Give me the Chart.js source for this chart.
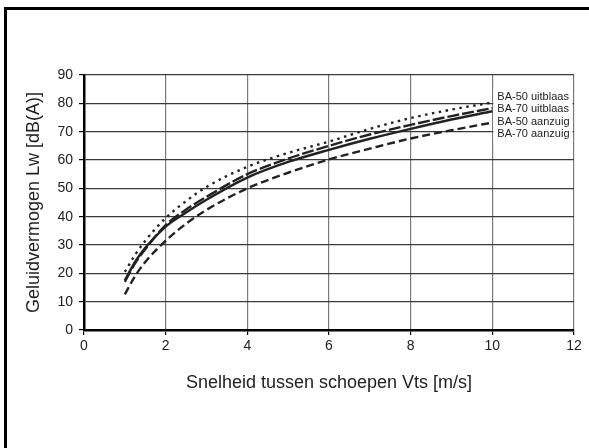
<!DOCTYPE html>
<html>
<head>
<meta charset="utf-8">
<script src="https://cdn.jsdelivr.net/npm/chart.js@4/dist/chart.umd.min.js"></script>
<style>
  html, body { margin: 0; padding: 0; background: #fff; }
  #wrap { width: 589px; height: 448px; position: relative; }
</style>
</head>
<body>
<div id="wrap"><canvas id="c" width="589" height="448"></canvas></div>
<script>
// ---- data ----
const speeds = [1, 1.25, 1.5, 2, 2.5, 3, 4, 5, 6, 7, 8, 9, 10];
const ba50Uitblaas = [20.5, 26.5, 31.5, 39.5, 45.5, 50.5, 57.6, 62.5, 66.5, 71, 74.8, 77.8, 80.3];
const ba70Uitblaas = [17, 23.5, 28.5, 37, 42.5, 47, 55, 60.5, 65, 69, 72.4, 75.5, 78.3];
const ba50Aanzuig = [17.5, 24, 29, 36.5, 41.5, 46, 53.8, 59.3, 63.6, 67.5, 71, 74.3, 77.2];
const ba70Aanzuig = [12.6, 19, 24, 31.5, 37.5, 42.4, 50, 55.5, 60.2, 64, 67.6, 70.5, 73.2];
const seriesLabels = ['BA-50 uitblaas', 'BA-70 uitblaas', 'BA-50 aanzuig', 'BA-70 aanzuig'];
const xTicks = [0, 2, 4, 6, 8, 10, 12];
const yTicks = [0, 10, 20, 30, 40, 50, 60, 70, 80, 90];
const xTitle = 'Snelheid tussen schoepen Vts [m/s]';
const yTitle = 'Geluidvermogen Lw [dB(A)]';

const FONT = "'Liberation Sans Narrow', 'Arial Narrow', 'Liberation Sans', Arial, sans-serif";
const INK = '#222';

function pts(ys) { return speeds.map((x, i) => ({ x: x, y: ys[i] })); }

const styles = [
  { borderDash: [2.5, 4.5], borderWidth: 2.4 },
  { borderDash: [12, 3], borderWidth: 2.4 },
  { borderDash: [], borderWidth: 2.4 },
  { borderDash: [8, 4], borderWidth: 2.4 }
];
const allSeries = [ba50Uitblaas, ba70Uitblaas, ba50Aanzuig, ba70Aanzuig];

const frame = {
  id: 'frame',
  afterDraw(chart) {
    const ctx = chart.ctx;
    ctx.save();
    ctx.strokeStyle = '#000';
    ctx.lineWidth = 3;
    ctx.strokeRect(5.5, 8.5, 800, 800);
    ctx.restore();
  }
};

const boxLegend = {
  id: 'boxLegend',
  afterDatasetsDraw(chart) {
    const ctx = chart.ctx;
    const xs = chart.scales.x;
    const area = chart.chartArea;
    const left = xs.getPixelForValue(10) + 1;
    const right = area.right - 1.5;
    ctx.save();
    ctx.fillStyle = '#fff';
    ctx.fillRect(left, 89, right - left, 52);
    ctx.fillStyle = INK;
    ctx.font = '11px ' + FONT;
    ctx.textBaseline = 'middle';
    ctx.textAlign = 'left';
    chart.data.datasets.forEach((ds, i) => {
      ctx.fillText(ds.label, left + 4, 97 + i * 12.3);
    });
    ctx.restore();
  }
};

new Chart(document.getElementById('c'), {
  type: 'line',
  data: {
    datasets: allSeries.map((ys, i) => ({
      label: seriesLabels[i],
      data: pts(ys),
      borderColor: INK,
      borderWidth: styles[i].borderWidth,
      borderDash: styles[i].borderDash,
      pointRadius: 0,
      fill: false,
      cubicInterpolationMode: 'monotone'
    }))
  },
  options: {
    responsive: false,
    animation: false,
    layout: { padding: { left: 19, top: 75, right: 15, bottom: 50 } },
    plugins: { legend: { display: false }, tooltip: { enabled: false } },
    scales: {
      x: {
        type: 'linear',
        min: 0, max: 12,
        afterFit(s) { s.height = 68; },
        afterBuildTicks(s) { s.ticks = xTicks.map(v => ({ value: v })); },
        grid: { color: '#7a7a7a', lineWidth: 1.2, tickLength: 5, tickColor: '#000' },
        border: { color: '#000', width: 2.5 },
        ticks: { color: INK, font: { family: FONT, size: 14 }, padding: 3 },
        title: { display: true, text: xTitle, color: INK, font: { family: FONT, size: 18 }, padding: { top: 4, bottom: 4 } }
      },
      y: {
        type: 'linear',
        min: 0, max: 90,
        afterFit(s) { s.width = 65; },
        afterBuildTicks(s) { s.ticks = yTicks.map(v => ({ value: v })); },
        grid: { color: '#3a3a3a', lineWidth: 1.2, tickLength: 5, tickColor: '#000' },
        border: { color: '#000', width: 2.5 },
        ticks: { color: INK, font: { family: FONT, size: 14 }, padding: 6 },
        title: { display: true, text: yTitle, color: INK, font: { family: FONT, size: 18 }, padding: { top: 4, bottom: 4 } }
      }
    }
  },
  plugins: [boxLegend, frame]
});
</script>
</body>
</html>
